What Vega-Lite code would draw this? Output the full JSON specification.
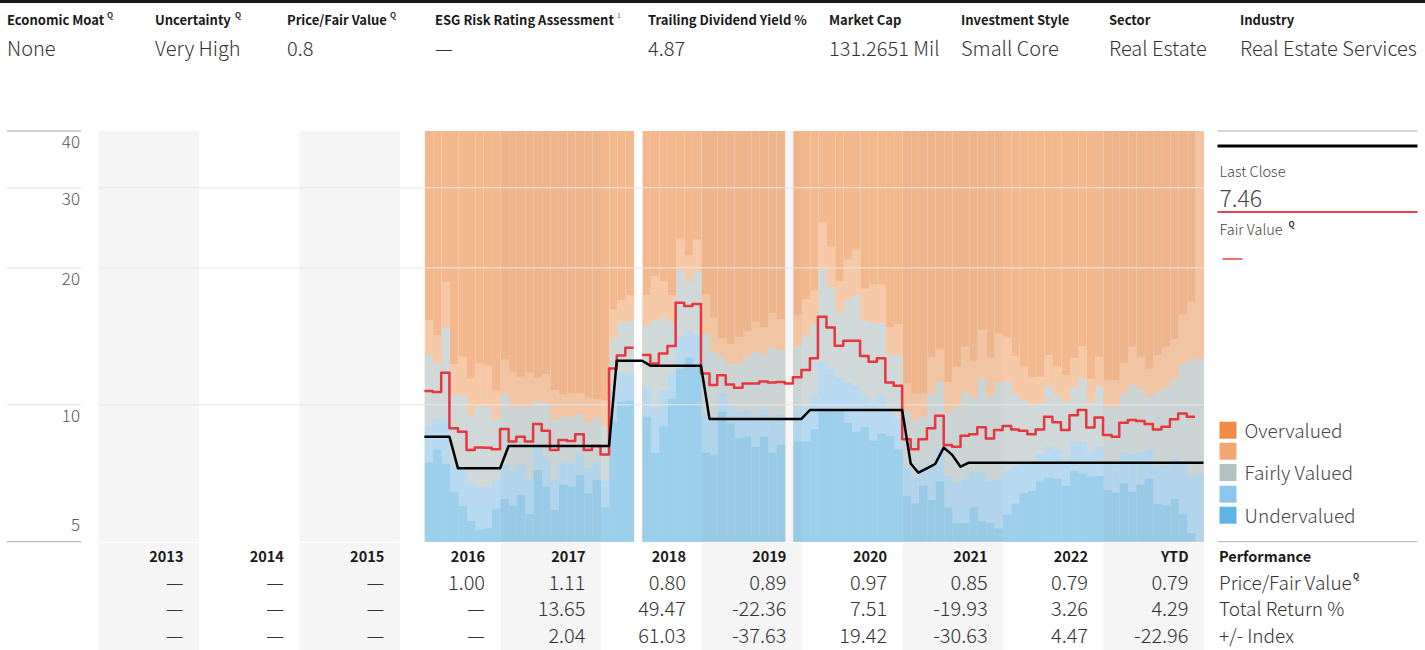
{
  "$schema": "https://vega.github.io/schema/vega-lite/v6.json",
  "padding": 0,
  "background": "white",
  "spacing": 0,
  "config": {
    "view": {"stroke": null},
    "font": "Noto Sans CJK JP, Roboto, sans-serif",
    "text": {"font": "Noto Sans CJK JP, Roboto, sans-serif"},
    "concat": {"spacing": 0}
  },
  "datasets": {
    "header": [
      {"k": 1, "t": "Economic Moat", "v": "None"},
      {"k": 2, "t": "Uncertainty", "v": "Very High"},
      {"k": 3, "t": "Price/Fair Value", "v": "0.8"},
      {"k": 4, "t": "ESG Risk Rating Assessment", "v": "—"},
      {"k": 5, "t": "Trailing Dividend Yield %", "v": "4.87"},
      {"k": 6, "t": "Market Cap", "v": "131.2651 Mil"},
      {"k": 7, "t": "Investment Style", "v": "Small Core"},
      {"k": 8, "t": "Sector", "v": "Real Estate"},
      {"k": 9, "t": "Industry", "v": "Real Estate Services"}
    ],
    "cols": [
      {"s": "2013-07-01"}, {"s": "2015-07-01"}, {"s": "2017-07-01"},
      {"s": "2019-07-01"}, {"s": "2021-07-01"}, {"s": "2023-07-01"}
    ],
    "table": [
      {"yr": "2013", "end": "2014-01-01", "pf": "—", "tr": "—", "idx": "—"},
      {"yr": "2014", "end": "2015-01-01", "pf": "—", "tr": "—", "idx": "—"},
      {"yr": "2015", "end": "2016-01-01", "pf": "—", "tr": "—", "idx": "—"},
      {"yr": "2016", "end": "2017-01-01", "pf": "1.00", "tr": "—", "idx": "—"},
      {"yr": "2017", "end": "2018-01-01", "pf": "1.11", "tr": "13.65", "idx": "2.04"},
      {"yr": "2018", "end": "2019-01-01", "pf": "0.80", "tr": "49.47", "idx": "61.03"},
      {"yr": "2019", "end": "2020-01-01", "pf": "0.89", "tr": "-22.36", "idx": "-37.63"},
      {"yr": "2020", "end": "2021-01-01", "pf": "0.97", "tr": "7.51", "idx": "19.42"},
      {"yr": "2021", "end": "2022-01-01", "pf": "0.85", "tr": "-19.93", "idx": "-30.63"},
      {"yr": "2022", "end": "2023-01-01", "pf": "0.79", "tr": "3.26", "idx": "4.47"},
      {"yr": "YTD", "end": "2024-01-01", "pf": "0.79", "tr": "4.29", "idx": "-22.96"}
    ],
    "bands": [
      {"d": "2016-04-01", "b1": 7.47, "b2": 8.95, "b3": 12.86, "b4": 15.36},
      {"d": "2016-05-01", "b1": 7.98, "b2": 9.29, "b3": 12.33, "b4": 14.23},
      {"d": "2016-06-01", "b1": 7.41, "b2": 9.37, "b3": 14.8, "b4": 18.65},
      {"d": "2016-07-01", "b1": 6.44, "b2": 7.53, "b3": 10.51, "b4": 12.29},
      {"d": "2016-08-01", "b1": 5.99, "b2": 7.26, "b3": 10.51, "b4": 12.76},
      {"d": "2016-09-01", "b1": 5.55, "b2": 6.68, "b3": 9.49, "b4": 11.43},
      {"d": "2016-10-01", "b1": 5.31, "b2": 6.6, "b3": 9.94, "b4": 12.33},
      {"d": "2016-11-01", "b1": 5.35, "b2": 6.61, "b3": 9.87, "b4": 12.19},
      {"d": "2016-12-01", "b1": 5.92, "b2": 6.83, "b3": 9.29, "b4": 10.74},
      {"d": "2017-01-01", "b1": 6.2, "b2": 7.39, "b3": 10.56, "b4": 12.59},
      {"d": "2017-02-01", "b1": 6.0, "b2": 7.16, "b3": 9.9, "b4": 11.82},
      {"d": "2017-03-01", "b1": 6.34, "b2": 7.41, "b3": 9.87, "b4": 11.53},
      {"d": "2017-04-01", "b1": 5.75, "b2": 6.85, "b3": 9.9, "b4": 11.79},
      {"d": "2017-05-01", "b1": 7.19, "b2": 8.12, "b3": 10.16, "b4": 11.47},
      {"d": "2017-06-01", "b1": 6.61, "b2": 7.64, "b3": 10.11, "b4": 11.69},
      {"d": "2017-07-01", "b1": 5.87, "b2": 6.83, "b3": 9.26, "b4": 10.78},
      {"d": "2017-08-01", "b1": 6.67, "b2": 7.5, "b3": 9.38, "b4": 10.54},
      {"d": "2017-09-01", "b1": 6.61, "b2": 7.45, "b3": 9.41, "b4": 10.6},
      {"d": "2017-10-01", "b1": 7.01, "b2": 7.8, "b3": 9.53, "b4": 10.6},
      {"d": "2017-11-01", "b1": 6.39, "b2": 7.26, "b3": 9.13, "b4": 10.37},
      {"d": "2017-12-01", "b1": 6.83, "b2": 7.5, "b3": 9.38, "b4": 10.3},
      {"d": "2018-01-01", "b1": 5.95, "b2": 6.81, "b3": 8.95, "b4": 10.24},
      {"d": "2018-02-01", "b1": 9.2, "b2": 10.65, "b3": 14.0, "b4": 16.21},
      {"d": "2018-03-01", "b1": 10.16, "b2": 11.72, "b3": 15.23, "b4": 16.99},
      {"d": "2018-04-01", "b1": 10.21, "b2": 11.69, "b3": 15.23, "b4": 17.43},
      {"d": "2018-06-01", "b1": 9.41, "b2": 11.0, "b3": 14.89, "b4": 17.43},
      {"d": "2018-07-01", "b1": 7.84, "b2": 9.8, "b3": 15.36, "b4": 19.2},
      {"d": "2018-08-01", "b1": 8.98, "b2": 10.78, "b3": 15.57, "b4": 18.7},
      {"d": "2018-09-01", "b1": 10.33, "b2": 11.82, "b3": 15.23, "b4": 17.43},
      {"d": "2018-10-01", "b1": 12.02, "b2": 14.1, "b3": 19.77, "b4": 23.2},
      {"d": "2018-11-01", "b1": 12.7, "b2": 14.49, "b3": 18.7, "b4": 21.33},
      {"d": "2018-12-01", "b1": 12.13, "b2": 14.24, "b3": 19.67, "b4": 23.1},
      {"d": "2019-01-01", "b1": 7.84, "b2": 9.59, "b3": 14.3, "b4": 17.5},
      {"d": "2019-02-01", "b1": 7.75, "b2": 9.4, "b3": 13.08, "b4": 15.57},
      {"d": "2019-03-01", "b1": 9.66, "b2": 10.6, "b3": 12.76, "b4": 14.0},
      {"d": "2019-04-01", "b1": 9.1, "b2": 9.9, "b3": 12.29, "b4": 13.6},
      {"d": "2019-05-01", "b1": 8.44, "b2": 9.66, "b3": 12.33, "b4": 14.11},
      {"d": "2019-06-01", "b1": 8.51, "b2": 9.69, "b3": 12.76, "b4": 14.53},
      {"d": "2019-07-01", "b1": 8.09, "b2": 9.42, "b3": 13.08, "b4": 15.23},
      {"d": "2019-08-01", "b1": 8.51, "b2": 9.74, "b3": 12.93, "b4": 14.8},
      {"d": "2019-09-01", "b1": 7.84, "b2": 9.35, "b3": 13.37, "b4": 15.94},
      {"d": "2019-10-01", "b1": 8.16, "b2": 9.55, "b3": 13.19, "b4": 15.44},
      {"d": "2019-12-01", "b1": 8.3, "b2": 9.74, "b3": 13.46, "b4": 15.75},
      {"d": "2020-01-01", "b1": 8.3, "b2": 9.94, "b3": 14.23, "b4": 17.05},
      {"d": "2020-02-01", "b1": 8.85, "b2": 10.5, "b3": 15.05, "b4": 17.87},
      {"d": "2020-03-01", "b1": 9.82, "b2": 12.4, "b3": 19.84, "b4": 25.25},
      {"d": "2020-04-01", "b1": 9.77, "b2": 11.98, "b3": 18.18, "b4": 22.3},
      {"d": "2020-05-01", "b1": 9.77, "b2": 11.46, "b3": 15.94, "b4": 18.7},
      {"d": "2020-06-01", "b1": 9.13, "b2": 11.21, "b3": 16.99, "b4": 20.87},
      {"d": "2020-07-01", "b1": 8.72, "b2": 10.98, "b3": 17.43, "b4": 21.95},
      {"d": "2020-08-01", "b1": 8.92, "b2": 10.5, "b3": 15.31, "b4": 18.02},
      {"d": "2020-09-01", "b1": 8.34, "b2": 10.13, "b3": 15.15, "b4": 18.4},
      {"d": "2020-10-01", "b1": 8.65, "b2": 10.5, "b3": 15.15, "b4": 18.4},
      {"d": "2020-11-01", "b1": 8.54, "b2": 9.83, "b3": 12.86, "b4": 14.8},
      {"d": "2020-12-01", "b1": 7.98, "b2": 9.34, "b3": 12.86, "b4": 15.05},
      {"d": "2021-01-01", "b1": 6.3, "b2": 7.27, "b3": 9.66, "b4": 11.14},
      {"d": "2021-02-01", "b1": 6.07, "b2": 6.95, "b3": 9.26, "b4": 10.6},
      {"d": "2021-03-01", "b1": 6.64, "b2": 7.3, "b3": 9.41, "b4": 10.6},
      {"d": "2021-04-01", "b1": 6.18, "b2": 7.44, "b3": 10.6, "b4": 12.76},
      {"d": "2021-05-01", "b1": 6.78, "b2": 7.99, "b3": 11.24, "b4": 13.24},
      {"d": "2021-06-01", "b1": 5.95, "b2": 6.97, "b3": 9.6, "b4": 11.24},
      {"d": "2021-07-01", "b1": 5.49, "b2": 6.75, "b3": 9.87, "b4": 12.13},
      {"d": "2021-08-01", "b1": 5.49, "b2": 6.89, "b3": 10.69, "b4": 13.42},
      {"d": "2021-09-01", "b1": 5.95, "b2": 7.16, "b3": 10.39, "b4": 12.5},
      {"d": "2021-10-01", "b1": 5.54, "b2": 7.1, "b3": 11.43, "b4": 14.65},
      {"d": "2021-11-01", "b1": 5.49, "b2": 6.8, "b3": 10.42, "b4": 12.72},
      {"d": "2021-12-01", "b1": 5.35, "b2": 6.85, "b3": 11.24, "b4": 14.4},
      {"d": "2022-01-01", "b1": 5.74, "b2": 7.18, "b3": 11.24, "b4": 14.06},
      {"d": "2022-02-01", "b1": 6.07, "b2": 7.33, "b3": 10.6, "b4": 12.8},
      {"d": "2022-03-01", "b1": 6.39, "b2": 7.45, "b3": 10.24, "b4": 12.13},
      {"d": "2022-04-01", "b1": 6.46, "b2": 7.38, "b3": 9.99, "b4": 11.49},
      {"d": "2022-05-01", "b1": 6.78, "b2": 7.8, "b3": 10.02, "b4": 11.53},
      {"d": "2022-06-01", "b1": 6.92, "b2": 8.1, "b3": 10.99, "b4": 12.86},
      {"d": "2022-07-01", "b1": 6.88, "b2": 7.96, "b3": 10.51, "b4": 12.17},
      {"d": "2022-08-01", "b1": 6.64, "b2": 7.6, "b3": 10.16, "b4": 11.63},
      {"d": "2022-09-01", "b1": 7.16, "b2": 8.32, "b3": 10.92, "b4": 12.69},
      {"d": "2022-10-01", "b1": 7.07, "b2": 8.3, "b3": 11.47, "b4": 13.46},
      {"d": "2022-11-01", "b1": 6.95, "b2": 7.84, "b3": 10.11, "b4": 11.41},
      {"d": "2022-12-01", "b1": 6.97, "b2": 8.11, "b3": 10.96, "b4": 12.76},
      {"d": "2023-01-01", "b1": 6.5, "b2": 7.44, "b3": 9.9, "b4": 11.33},
      {"d": "2023-02-01", "b1": 6.41, "b2": 7.36, "b3": 9.87, "b4": 11.33},
      {"d": "2023-03-01", "b1": 6.72, "b2": 7.86, "b3": 10.6, "b4": 12.39},
      {"d": "2023-04-01", "b1": 6.44, "b2": 7.78, "b3": 11.1, "b4": 13.42},
      {"d": "2023-05-01", "b1": 6.67, "b2": 7.86, "b3": 10.83, "b4": 12.76},
      {"d": "2023-06-01", "b1": 6.87, "b2": 7.95, "b3": 10.39, "b4": 12.02},
      {"d": "2023-07-01", "b1": 6.05, "b2": 7.29, "b3": 10.67, "b4": 12.86},
      {"d": "2023-08-01", "b1": 6.0, "b2": 7.37, "b3": 10.92, "b4": 13.42},
      {"d": "2023-09-01", "b1": 6.21, "b2": 7.62, "b3": 11.37, "b4": 13.95},
      {"d": "2023-10-01", "b1": 5.75, "b2": 7.39, "b3": 12.29, "b4": 15.8},
      {"d": "2023-11-01", "b1": 5.22, "b2": 7.0, "b3": 12.59, "b4": 16.9},
      {"d": "2023-12-01", "b1": 5.0, "b2": 7.0, "b3": 12.59, "b4": 40}
    ],
    "lines": [
      {"d": "2016-04-01", "close": 8.51, "fv": 10.72, "seg": "a"},
      {"d": "2016-05-01", "close": 8.51, "fv": 10.67, "seg": "a"},
      {"d": "2016-06-01", "close": 8.51, "fv": 11.76, "seg": "a"},
      {"d": "2016-07-01", "close": 8.51, "fv": 8.88, "seg": "a"},
      {"d": "2016-08-01", "close": 7.25, "fv": 8.73, "seg": "a"},
      {"d": "2016-09-01", "close": 7.25, "fv": 7.95, "seg": "a"},
      {"d": "2016-10-01", "close": 7.25, "fv": 8.06, "seg": "a"},
      {"d": "2016-11-01", "close": 7.25, "fv": 8.05, "seg": "a"},
      {"d": "2016-12-01", "close": 7.25, "fv": 7.98, "seg": "a"},
      {"d": "2017-01-01", "close": 7.25, "fv": 8.85, "seg": "a"},
      {"d": "2017-02-01", "close": 8.12, "fv": 8.3, "seg": "a"},
      {"d": "2017-03-01", "close": 8.12, "fv": 8.51, "seg": "a"},
      {"d": "2017-04-01", "close": 8.12, "fv": 8.3, "seg": "a"},
      {"d": "2017-05-01", "close": 8.12, "fv": 9.07, "seg": "a"},
      {"d": "2017-06-01", "close": 8.12, "fv": 8.77, "seg": "a"},
      {"d": "2017-07-01", "close": 8.12, "fv": 7.95, "seg": "a"},
      {"d": "2017-08-01", "close": 8.12, "fv": 8.37, "seg": "a"},
      {"d": "2017-09-01", "close": 8.12, "fv": 8.33, "seg": "a"},
      {"d": "2017-10-01", "close": 8.12, "fv": 8.62, "seg": "a"},
      {"d": "2017-11-01", "close": 8.12, "fv": 7.95, "seg": "a"},
      {"d": "2017-12-01", "close": 8.12, "fv": 8.12, "seg": "a"},
      {"d": "2018-01-01", "close": 8.12, "fv": 7.78, "seg": "a"},
      {"d": "2018-02-01", "close": 8.12, "fv": 12.02, "seg": "a"},
      {"d": "2018-03-01", "close": 12.5, "fv": 12.84, "seg": "a"},
      {"d": "2018-04-01", "close": 12.5, "fv": 13.35, "seg": "a"},
      {"d": "2018-05-01", "close": 12.5, "fv": 13.35, "seg": "a"},
      {"d": "2018-06-01", "close": 12.5, "fv": 12.86, "seg": "b"},
      {"d": "2018-07-01", "close": 12.19, "fv": 12.33, "seg": "b"},
      {"d": "2018-08-01", "close": 12.19, "fv": 12.97, "seg": "b"},
      {"d": "2018-09-01", "close": 12.19, "fv": 13.46, "seg": "b"},
      {"d": "2018-10-01", "close": 12.19, "fv": 16.77, "seg": "b"},
      {"d": "2018-11-01", "close": 12.19, "fv": 16.49, "seg": "b"},
      {"d": "2018-12-01", "close": 12.19, "fv": 16.65, "seg": "b"},
      {"d": "2019-01-01", "close": 12.19, "fv": 11.72, "seg": "b"},
      {"d": "2019-02-01", "close": 9.31, "fv": 11.05, "seg": "b"},
      {"d": "2019-03-01", "close": 9.31, "fv": 11.62, "seg": "b"},
      {"d": "2019-04-01", "close": 9.31, "fv": 11.08, "seg": "b"},
      {"d": "2019-05-01", "close": 9.31, "fv": 10.9, "seg": "b"},
      {"d": "2019-06-01", "close": 9.31, "fv": 11.14, "seg": "b"},
      {"d": "2019-07-01", "close": 9.31, "fv": 11.14, "seg": "b"},
      {"d": "2019-08-01", "close": 9.31, "fv": 11.25, "seg": "b"},
      {"d": "2019-09-01", "close": 9.31, "fv": 11.2, "seg": "b"},
      {"d": "2019-10-01", "close": 9.31, "fv": 11.22, "seg": "b"},
      {"d": "2019-11-01", "close": 9.31, "fv": 11.14, "seg": "b"},
      {"d": "2019-12-01", "close": 9.31, "fv": 11.49, "seg": "b"},
      {"d": "2020-01-01", "close": 9.31, "fv": 11.92, "seg": "b"},
      {"d": "2020-02-01", "close": 9.74, "fv": 12.65, "seg": "b"},
      {"d": "2020-03-01", "close": 9.74, "fv": 15.62, "seg": "b"},
      {"d": "2020-04-01", "close": 9.74, "fv": 14.79, "seg": "b"},
      {"d": "2020-05-01", "close": 9.74, "fv": 13.49, "seg": "b"},
      {"d": "2020-06-01", "close": 9.74, "fv": 13.83, "seg": "b"},
      {"d": "2020-07-01", "close": 9.74, "fv": 13.83, "seg": "b"},
      {"d": "2020-08-01", "close": 9.74, "fv": 12.8, "seg": "b"},
      {"d": "2020-09-01", "close": 9.74, "fv": 12.43, "seg": "b"},
      {"d": "2020-10-01", "close": 9.74, "fv": 12.65, "seg": "b"},
      {"d": "2020-11-01", "close": 9.74, "fv": 11.2, "seg": "b"},
      {"d": "2020-12-01", "close": 9.74, "fv": 11.01, "seg": "b"},
      {"d": "2021-01-01", "close": 9.74, "fv": 8.4, "seg": "b"},
      {"d": "2021-02-01", "close": 7.43, "fv": 7.98, "seg": "b"},
      {"d": "2021-03-01", "close": 7.09, "fv": 8.4, "seg": "b"},
      {"d": "2021-04-01", "close": 7.25, "fv": 8.88, "seg": "b"},
      {"d": "2021-05-01", "close": 7.41, "fv": 9.46, "seg": "b"},
      {"d": "2021-06-01", "close": 8.05, "fv": 8.16, "seg": "b"},
      {"d": "2021-07-01", "close": 7.77, "fv": 8.09, "seg": "b"},
      {"d": "2021-08-01", "close": 7.31, "fv": 8.55, "seg": "b"},
      {"d": "2021-09-01", "close": 7.46, "fv": 8.62, "seg": "b"},
      {"d": "2021-10-01", "close": 7.46, "fv": 8.92, "seg": "b"},
      {"d": "2021-11-01", "close": 7.46, "fv": 8.43, "seg": "b"},
      {"d": "2021-12-01", "close": 7.46, "fv": 8.8, "seg": "b"},
      {"d": "2022-01-01", "close": 7.46, "fv": 8.98, "seg": "b"},
      {"d": "2022-02-01", "close": 7.46, "fv": 8.83, "seg": "b"},
      {"d": "2022-03-01", "close": 7.46, "fv": 8.77, "seg": "b"},
      {"d": "2022-04-01", "close": 7.46, "fv": 8.61, "seg": "b"},
      {"d": "2022-05-01", "close": 7.46, "fv": 8.83, "seg": "b"},
      {"d": "2022-06-01", "close": 7.46, "fv": 9.41, "seg": "b"},
      {"d": "2022-07-01", "close": 7.46, "fv": 9.15, "seg": "b"},
      {"d": "2022-08-01", "close": 7.46, "fv": 8.8, "seg": "b"},
      {"d": "2022-09-01", "close": 7.46, "fv": 9.49, "seg": "b"},
      {"d": "2022-10-01", "close": 7.46, "fv": 9.74, "seg": "b"},
      {"d": "2022-11-01", "close": 7.46, "fv": 8.91, "seg": "b"},
      {"d": "2022-12-01", "close": 7.46, "fv": 9.38, "seg": "b"},
      {"d": "2023-01-01", "close": 7.46, "fv": 8.58, "seg": "b"},
      {"d": "2023-02-01", "close": 7.46, "fv": 8.51, "seg": "b"},
      {"d": "2023-03-01", "close": 7.46, "fv": 9.13, "seg": "b"},
      {"d": "2023-04-01", "close": 7.46, "fv": 9.26, "seg": "b"},
      {"d": "2023-05-01", "close": 7.46, "fv": 9.21, "seg": "b"},
      {"d": "2023-06-01", "close": 7.46, "fv": 9.07, "seg": "b"},
      {"d": "2023-07-01", "close": 7.46, "fv": 8.83, "seg": "b"},
      {"d": "2023-08-01", "close": 7.46, "fv": 8.95, "seg": "b"},
      {"d": "2023-09-01", "close": 7.46, "fv": 9.3, "seg": "b"},
      {"d": "2023-10-01", "close": 7.46, "fv": 9.57, "seg": "b"},
      {"d": "2023-11-01", "close": 7.46, "fv": 9.41, "seg": "b"},
      {"d": "2023-12-01", "close": 7.46, "fv": 9.41, "seg": "b"},
      {"d": "2024-01-01", "close": 7.46, "fv": null, "seg": "b"}
    ]
  },
  "vconcat": [
    {
      "width": 1425,
      "height": 3,
      "data": {"values": [{"part": "top line"}]},
      "mark": {"type": "rect", "color": "#1a1a1a"},
      "encoding": {}
    },
    {
      "width": 1425,
      "height": 127,
      "layer": [
        {
          "data": {"name": "header"},
          "transform": [{"fold": ["t", "v"], "as": ["key", "text"]}, {"filter": "datum.key === 't'"}],
          "mark": {"type": "text", "align": "left", "baseline": "middle", "fontSize": 13, "fontWeight": "bold", "color": "#1a1a1a"},
          "encoding": {
            "x": {"field": "k", "type": "quantitative", "scale": {"domain": [1, 2, 3, 4, 5, 6, 7, 8, 9], "range": [7, 155, 287, 435, 648, 829, 961, 1109, 1240], "nice": false, "zero": false}, "axis": null},
            "y": {"field": "key", "type": "nominal", "scale": {"type": "point", "domain": ["t", "v"], "range": [18, 46.5], "padding": 0}, "axis": null},
            "text": {"field": "text", "type": "nominal"}
          }
        },
        {
          "data": {"name": "header"},
          "transform": [{"fold": ["t", "v"], "as": ["key", "text"]}, {"filter": "datum.key === 'v'"}],
          "mark": {"type": "text", "align": "left", "baseline": "middle", "fontSize": 20, "fontWeight": 300, "color": "#333333"},
          "encoding": {
            "x": {"field": "k", "type": "quantitative", "axis": null},
            "y": {"field": "key", "type": "nominal", "axis": null},
            "text": {"field": "text", "type": "nominal"}
          }
        },
        {
          "data": {"values": [{"k": 1, "key": "t", "q": "Q"}]},
          "mark": {"type": "text", "align": "left", "baseline": "middle", "fontSize": 8, "fontWeight": "bold", "dx": 100, "dy": -5, "color": "#333333"},
          "encoding": {"x": {"field": "k", "type": "quantitative", "axis": null}, "y": {"field": "key", "type": "nominal", "axis": null}, "text": {"field": "q", "type": "nominal"}}
        },
        {
          "data": {"values": [{"k": 2, "key": "t", "q": "Q"}]},
          "mark": {"type": "text", "align": "left", "baseline": "middle", "fontSize": 8, "fontWeight": "bold", "dx": 80, "dy": -5, "color": "#333333"},
          "encoding": {"x": {"field": "k", "type": "quantitative", "axis": null}, "y": {"field": "key", "type": "nominal", "axis": null}, "text": {"field": "q", "type": "nominal"}}
        },
        {
          "data": {"values": [{"k": 3, "key": "t", "q": "Q"}]},
          "mark": {"type": "text", "align": "left", "baseline": "middle", "fontSize": 8, "fontWeight": "bold", "dx": 103, "dy": -5, "color": "#333333"},
          "encoding": {"x": {"field": "k", "type": "quantitative", "axis": null}, "y": {"field": "key", "type": "nominal", "axis": null}, "text": {"field": "q", "type": "nominal"}}
        },
        {
          "data": {"values": [{"k": 4, "key": "t", "q": "1"}]},
          "mark": {"type": "text", "align": "left", "baseline": "middle", "fontSize": 7, "dx": 182, "dy": -5, "color": "#666666"},
          "encoding": {"x": {"field": "k", "type": "quantitative", "axis": null}, "y": {"field": "key", "type": "nominal", "axis": null}, "text": {"field": "q", "type": "nominal"}}
        }
      ]
    },
    {
      "hconcat": [
        {
          "width": 6, "height": 410.7,
          "data": {"values": [{"part": "pad"}]},
          "mark": {"type": "point", "opacity": 0},
          "encoding": {}
        },
        {
          "width": 74, "height": 410.7,
          "layer": [
            {
              "data": {"values": [{"v": 5}, {"v": 40}]},
              "mark": {"type": "rule", "color": "#a8a8a8", "strokeWidth": 1},
              "encoding": {"y": {"field": "v", "type": "quantitative", "scale": {"type": "log", "domain": [5, 40], "nice": false}, "axis": null}}
            },
            {
              "data": {"values": [{"v": 10}, {"v": 20}, {"v": 30}]},
              "mark": {"type": "rule", "color": "#e3e3e3", "strokeWidth": 1},
              "encoding": {"y": {"field": "v", "type": "quantitative", "axis": null}}
            },
            {
              "data": {"values": [{"v": 10}, {"v": 20}, {"v": 30}, {"v": 40}]},
              "mark": {"type": "text", "align": "right", "baseline": "alphabetic", "dx": 36, "dy": 17.3, "fontSize": 17, "fontWeight": 300, "color": "#555555"},
              "encoding": {"y": {"field": "v", "type": "quantitative", "axis": null}, "text": {"field": "v", "type": "quantitative"}}
            },
            {
              "data": {"values": [{"v": 5}]},
              "mark": {"type": "text", "align": "right", "baseline": "alphabetic", "dx": 36, "dy": -11, "fontSize": 17, "fontWeight": 300, "color": "#555555"},
              "encoding": {"y": {"field": "v", "type": "quantitative", "axis": null}, "text": {"field": "v", "type": "quantitative"}}
            }
          ]
        },
        {
          "width": 14.5, "height": 410.7,
          "data": {"values": [{"part": "pad"}]},
          "mark": {"type": "point", "opacity": 0},
          "encoding": {}
        },
        {
          "width": 1105.5, "height": 410.7,
          "layer": [
            {
              "data": {"name": "cols"},
              "mark": {"type": "bar", "color": "#f5f5f5", "binSpacing": 0},
              "encoding": {
                "x": {"field": "s", "timeUnit": "year", "type": "temporal", "scale": {"domain": [{"year": 2013, "month": 1, "date": 1}, {"year": 2024, "month": 1, "date": 1}]}, "axis": null}
              }
            },
            {
              "data": {"name": "bands"},
              "mark": {"type": "bar", "color": "#f3b88e", "binSpacing": 0},
              "encoding": {"x": {"field": "d", "timeUnit": "yearmonth", "type": "temporal", "axis": null}}
            },
            {
              "data": {"name": "bands"},
              "mark": {"type": "bar", "color": "#f6c9a8", "binSpacing": 0},
              "encoding": {
                "x": {"field": "d", "timeUnit": "yearmonth", "type": "temporal", "axis": null},
                "y": {"field": "b4", "type": "quantitative", "stack": null, "scale": {"type": "log", "domain": [5, 40], "nice": false}, "axis": null}
              }
            },
            {
              "data": {"name": "bands"},
              "mark": {"type": "bar", "color": "#cfd9da", "binSpacing": 0},
              "encoding": {
                "x": {"field": "d", "timeUnit": "yearmonth", "type": "temporal", "axis": null},
                "y": {"field": "b3", "type": "quantitative", "stack": null, "axis": null}
              }
            },
            {
              "data": {"name": "bands"},
              "mark": {"type": "bar", "color": "#b7daf0", "binSpacing": 0},
              "encoding": {
                "x": {"field": "d", "timeUnit": "yearmonth", "type": "temporal", "axis": null},
                "y": {"field": "b2", "type": "quantitative", "stack": null, "axis": null}
              }
            },
            {
              "data": {"name": "bands"},
              "mark": {"type": "bar", "color": "#9ccfeb", "binSpacing": 0},
              "encoding": {
                "x": {"field": "d", "timeUnit": "yearmonth", "type": "temporal", "axis": null},
                "y": {"field": "b1", "type": "quantitative", "stack": null, "axis": null}
              }
            },
            {
              "data": {"name": "bands"},
              "transform": [{"filter": "utcyear(toDate(datum.d)) % 2 === 1"}],
              "mark": {"type": "bar", "color": "#000000", "opacity": 0.018, "binSpacing": 0},
              "encoding": {"x": {"field": "d", "timeUnit": "yearmonth", "type": "temporal", "axis": null}}
            },
            {
              "data": {"values": [{"v": 10}, {"v": 20}, {"v": 30}]},
              "mark": {"type": "rule", "color": "#e6e6e6", "strokeWidth": 1},
              "encoding": {"y": {"field": "v", "type": "quantitative", "axis": null}}
            },
            {
              "data": {"name": "lines"},
              "mark": {"type": "line", "interpolate": "step-after", "color": "#e8363f", "strokeWidth": 2.5, "strokeJoin": "round"},
              "encoding": {
                "x": {"field": "d", "type": "temporal", "axis": null},
                "y": {"field": "fv", "type": "quantitative", "axis": null},
                "detail": {"field": "seg", "type": "nominal"}
              }
            },
            {
              "data": {"name": "lines"},
              "mark": {"type": "line", "color": "#000000", "strokeWidth": 2.5, "strokeJoin": "round"},
              "encoding": {
                "x": {"field": "d", "type": "temporal", "axis": null},
                "y": {"field": "close", "type": "quantitative", "axis": null}
              }
            }
          ]
        },
        {
          "width": 219.5, "height": 410.7,
          "layer": [
            {
              "data": {"values": [{"slot": 1, "c0": 0, "c1": 1}, {"slot": 13, "c0": 0, "c1": 1}]},
              "mark": {"type": "rule", "color": "#b0b0b0", "strokeWidth": 1},
              "encoding": {
                "x": {"field": "c0", "type": "quantitative", "scale": {"domain": [0, 1, 2, 3, 4, 5], "range": [12.5, 212.5, 23, 39.5, 17.5, 37.5], "nice": false, "zero": false}, "axis": null},
                "x2": {"field": "c1"},
                "y": {"field": "slot", "type": "quantitative", "scale": {"domain": [1, 2, 3, 4, 5, 6, 7, 8, 9, 10, 11, 12, 13], "range": [0, 15, 41.5, 68.5, 81, 100, 128, 299.2, 320.2, 341.5, 363.2, 384.2, 410.7], "nice": false, "zero": false}, "axis": null}
              }
            },
            {
              "data": {"values": [{"slot": 2, "c0": 0, "c1": 1}]},
              "mark": {"type": "rule", "color": "#000000", "strokeWidth": 3},
              "encoding": {"x": {"field": "c0", "type": "quantitative", "axis": null}, "x2": {"field": "c1"}, "y": {"field": "slot", "type": "quantitative", "axis": null}}
            },
            {
              "data": {"values": [{"slot": 5, "c0": 0, "c1": 1}]},
              "mark": {"type": "rule", "color": "#e8424a", "strokeWidth": 2},
              "encoding": {"x": {"field": "c0", "type": "quantitative", "axis": null}, "x2": {"field": "c1"}, "y": {"field": "slot", "type": "quantitative", "axis": null}}
            },
            {
              "data": {"values": [{"slot": 7, "c0": 4, "c1": 5}]},
              "mark": {"type": "rule", "color": "#e8424a", "strokeWidth": 1.5},
              "encoding": {"x": {"field": "c0", "type": "quantitative", "axis": null}, "x2": {"field": "c1"}, "y": {"field": "slot", "type": "quantitative", "axis": null}}
            },
            {
              "data": {"values": [{"slot": 3, "c0": 0, "t": "Last Close"}, {"slot": 6, "c0": 0, "t": "Fair Value"}]},
              "mark": {"type": "text", "align": "left", "baseline": "middle", "dx": 2, "fontSize": 14.5, "fontWeight": 300, "color": "#444444"},
              "encoding": {"x": {"field": "c0", "type": "quantitative", "axis": null}, "y": {"field": "slot", "type": "quantitative", "axis": null}, "text": {"field": "t", "type": "nominal"}}
            },
            {
              "data": {"values": [{"slot": 4, "c0": 0, "t": "7.46"}]},
              "mark": {"type": "text", "align": "left", "baseline": "middle", "dx": 2, "fontSize": 23, "fontWeight": 300, "color": "#444444"},
              "encoding": {"x": {"field": "c0", "type": "quantitative", "axis": null}, "y": {"field": "slot", "type": "quantitative", "axis": null}, "text": {"field": "t", "type": "nominal"}}
            },
            {
              "data": {"values": [{"slot": 6, "c0": 0, "t": "Q"}]},
              "mark": {"type": "text", "align": "left", "baseline": "middle", "dx": 71, "dy": -6, "fontSize": 8, "fontWeight": "bold", "color": "#333333"},
              "encoding": {"x": {"field": "c0", "type": "quantitative", "axis": null}, "y": {"field": "slot", "type": "quantitative", "axis": null}, "text": {"field": "t", "type": "nominal"}}
            },
            {
              "data": {"values": [
                {"slot": 8, "c0": 2, "zone": "Overvalued"},
                {"slot": 9, "c0": 2, "zone": "Overvalued (lower)"},
                {"slot": 10, "c0": 2, "zone": "Fairly Valued"},
                {"slot": 11, "c0": 2, "zone": "Undervalued (upper)"},
                {"slot": 12, "c0": 2, "zone": "Undervalued"}
              ]},
              "mark": {"type": "square", "size": 289, "opacity": 1, "filled": true},
              "encoding": {
                "x": {"field": "c0", "type": "quantitative", "axis": null},
                "y": {"field": "slot", "type": "quantitative", "axis": null},
                "color": {"field": "zone", "type": "nominal", "scale": {"domain": ["Overvalued", "Overvalued (lower)", "Fairly Valued", "Undervalued (upper)", "Undervalued"], "range": ["#f08c47", "#f3a874", "#b3c3c3", "#8cc6ec", "#5db4e5"]}, "legend": null}
              }
            },
            {
              "data": {"values": [
                {"slot": 8, "c0": 3, "t": "Overvalued"},
                {"slot": 10, "c0": 3, "t": "Fairly Valued"},
                {"slot": 12, "c0": 3, "t": "Undervalued"}
              ]},
              "mark": {"type": "text", "align": "left", "baseline": "middle", "dy": 1.5, "fontSize": 19, "fontWeight": 300, "color": "#444444"},
              "encoding": {"x": {"field": "c0", "type": "quantitative", "axis": null}, "y": {"field": "slot", "type": "quantitative", "axis": null}, "text": {"field": "t", "type": "nominal"}}
            }
          ]
        }
      ]
    },
    {
      "hconcat": [
        {
          "width": 97.5, "height": 107.3,
          "data": {"values": [{"part": "pad"}]},
          "mark": {"type": "point", "opacity": 0},
          "encoding": {}
        },
        {
          "width": 1105.5, "height": 107.3,
          "layer": [
            {
              "data": {"name": "cols"},
              "mark": {"type": "bar", "color": "#f5f5f5", "binSpacing": 0},
              "encoding": {
                "x": {"field": "s", "timeUnit": "year", "type": "temporal", "scale": {"domain": [{"year": 2013, "month": 1, "date": 1}, {"year": 2024, "month": 1, "date": 1}]}, "axis": null}
              }
            },
            {
              "data": {"name": "table"},
              "transform": [{"fold": ["yr", "pf", "tr", "idx"], "as": ["row", "val"]}, {"filter": "datum.row === 'yr'"}],
              "mark": {"type": "text", "align": "right", "baseline": "middle", "dx": -15, "fontSize": 14.5, "fontWeight": "bold", "color": "#1a1a1a"},
              "encoding": {
                "x": {"field": "end", "type": "temporal", "axis": null},
                "y": {"field": "row", "type": "nominal", "scale": {"type": "point", "domain": ["yr", "pf", "tr", "idx"], "range": [14.8, 93.8], "padding": 0}, "axis": null},
                "text": {"field": "val", "type": "nominal"}
              }
            },
            {
              "data": {"name": "table"},
              "transform": [{"fold": ["yr", "pf", "tr", "idx"], "as": ["row", "val"]}, {"filter": "datum.row !== 'yr'"}],
              "mark": {"type": "text", "align": "right", "baseline": "middle", "dx": -15, "fontSize": 20, "fontWeight": 300, "color": "#333333"},
              "encoding": {
                "x": {"field": "end", "type": "temporal", "axis": null},
                "y": {"field": "row", "type": "nominal", "axis": null},
                "text": {"field": "val", "type": "nominal"}
              }
            }
          ]
        },
        {
          "width": 30, "height": 107.3,
          "layer": [
            {
              "data": {"values": [{"row": "yr", "t": "Performance"}]},
              "mark": {"type": "text", "align": "left", "baseline": "middle", "fontSize": 14.5, "fontWeight": "bold", "color": "#1a1a1a"},
              "encoding": {
                "y": {"field": "row", "type": "nominal", "scale": {"type": "point", "domain": ["yr", "pf", "tr", "idx"], "range": [14.8, 93.8], "padding": 0}, "axis": null},
                "text": {"field": "t", "type": "nominal"}
              }
            },
            {
              "data": {"values": [{"row": "pf", "t": "Price/Fair Value"}, {"row": "tr", "t": "Total Return %"}, {"row": "idx", "t": "+/- Index"}]},
              "mark": {"type": "text", "align": "left", "baseline": "middle", "fontSize": 19, "fontWeight": 300, "color": "#333333"},
              "encoding": {
                "y": {"field": "row", "type": "nominal", "axis": null},
                "text": {"field": "t", "type": "nominal"}
              }
            },
            {
              "data": {"values": [{"row": "pf", "t": "Q"}]},
              "mark": {"type": "text", "align": "left", "baseline": "middle", "dx": 134, "dy": -7, "fontSize": 8, "fontWeight": "bold", "color": "#333333"},
              "encoding": {
                "y": {"field": "row", "type": "nominal", "axis": null},
                "text": {"field": "t", "type": "nominal"}
              }
            }
          ]
        }
      ]
    }
  ]
}
